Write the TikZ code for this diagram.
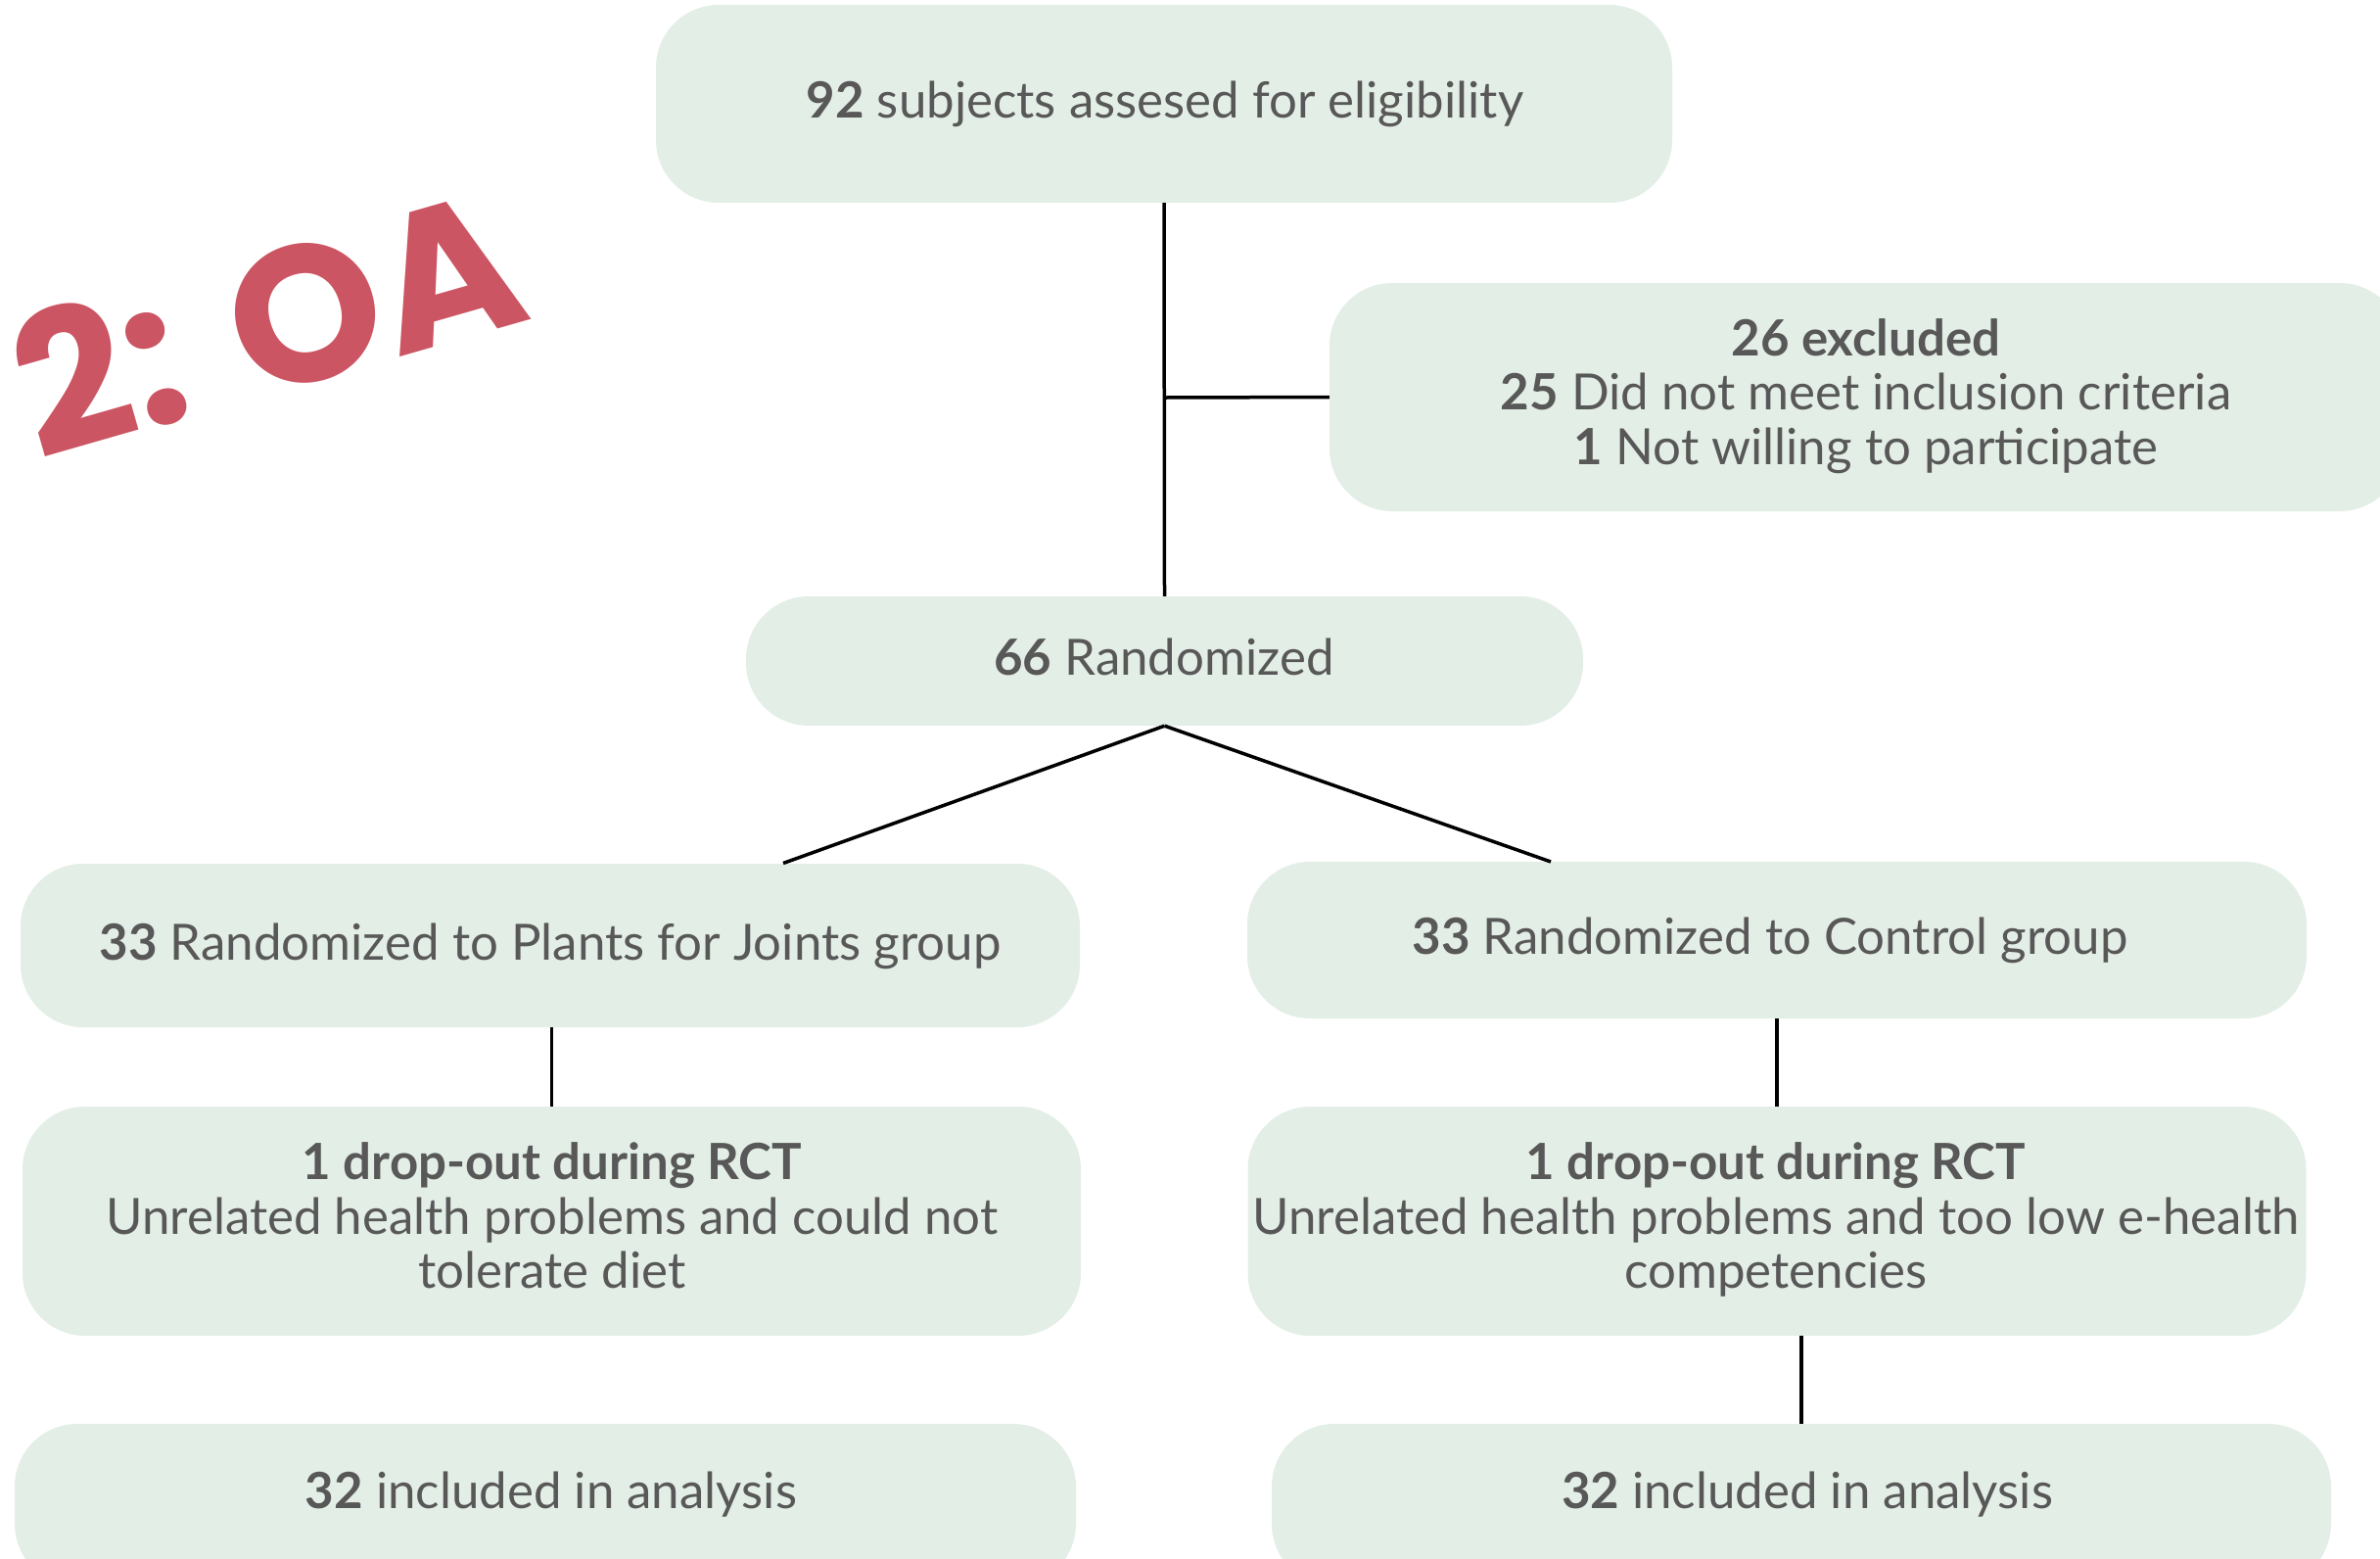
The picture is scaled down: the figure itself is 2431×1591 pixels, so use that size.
\documentclass[tikz,border=0pt]{standalone}
\usepackage{fontspec}
\setmainfont{Lato}
\newfontfamily\oafont{Poppins}
\definecolor{boxfill}{RGB}{227,238,230}
\definecolor{txtgray}{RGB}{88,88,88}
\definecolor{oared}{RGB}{204,85,99}
\begin{document}
\begin{tikzpicture}[x=1pt,y=-1pt,
  box/.style={fill=boxfill, rounded corners=64pt, inner sep=0pt, draw=none},
  txt/.style={text=txtgray, font=\fontsize{51}{56}\selectfont, anchor=base, inner sep=0pt},
  conn/.style={line width=3.5pt, black}]
\useasboundingbox (0,0) rectangle (2431,1591);
\clip (0,0) rectangle (2431,1591);
% boxes
\node[box, minimum width=1038pt, minimum height=202pt] (top) at (1189,106) {};
\node[box, minimum width=1096pt, minimum height=233pt] (excl) at (1906,405.5) {};
\node[box, minimum width=855pt, minimum height=132pt] (rand) at (1189.5,675) {};
\node[box, minimum width=1082pt, minimum height=167pt] (lg) at (562,965.5) {};
\node[box, minimum width=1082pt, minimum height=160pt] (rg) at (1815,960) {};
\node[box, minimum width=1081pt, minimum height=234pt] (ld) at (563.5,1247) {};
\node[box, minimum width=1081pt, minimum height=234pt] (rd) at (1815,1247) {};
\node[box, minimum width=1084pt, minimum height=166pt] (li) at (557,1537) {};
\node[box, minimum width=1082pt, minimum height=166pt] (ri) at (1840,1537) {};
% texts
\node[txt] (topT) at (1190,120) {\textbf{92} subjects assesed for eligibility};
\node[txt] (exclA) at (1906,363) {\textbf{26 excluded}};
\node[txt] (exclB) at (1906,418) {\textbf{25} Did not meet inclusion criteria};
\node[txt] (exclC) at (1906,474) {\textbf{1} Not willing to participate};
\node[txt] (randT) at (1189,689) {\textbf{66} Randomized};
\node[txt] (lgT) at (562,980) {\textbf{33} Randomized to Plants for Joints group};
\node[txt] (rgT) at (1808,974) {\textbf{33} Randomized to Control group};
\node[txt] (ldA) at (564,1204) {\textbf{1 drop-out during RCT}};
\node[txt] (ldB) at (564,1260) {Unrelated health problems and could not};
\node[txt] (ldC) at (564,1315) {tolerate diet};
\node[txt] (rdA) at (1814,1204) {\textbf{1 drop-out during RCT}};
\node[txt] (rdB) at (1814,1260) {Unrelated health problems and too low e-health};
\node[txt] (rdC) at (1814,1315) {competencies};
\node[txt] (liT) at (563,1540) {\textbf{32} included in analysis};
\node[txt] (riT) at (1846,1540) {\textbf{32} included in analysis};
% title
\node[text=oared, font=\oafont\bfseries\fontsize{198}{198}\selectfont, rotate=16, anchor=base, inner sep=0pt] (oa) at (293,398) {2: OA};
% connectors
\coordinate (branch) at (1189,406);
\coordinate (lgTop) at (800,881.5);
\coordinate (rgTop) at (1584,880);
\draw[conn] (top.south) -- (rand.north);
\draw[conn] (branch) -- (excl.west);
\draw[conn] (rand.south) -- (lgTop);
\draw[conn] (rand.south) -- (rgTop);
\draw[conn] (lg.south -| ld.north) -- (ld.north);
\draw[conn] (rg.south) -- (rd.north);
\draw[conn] (rd.south -| ri.north) -- (ri.north);
\end{tikzpicture}
\end{document}
